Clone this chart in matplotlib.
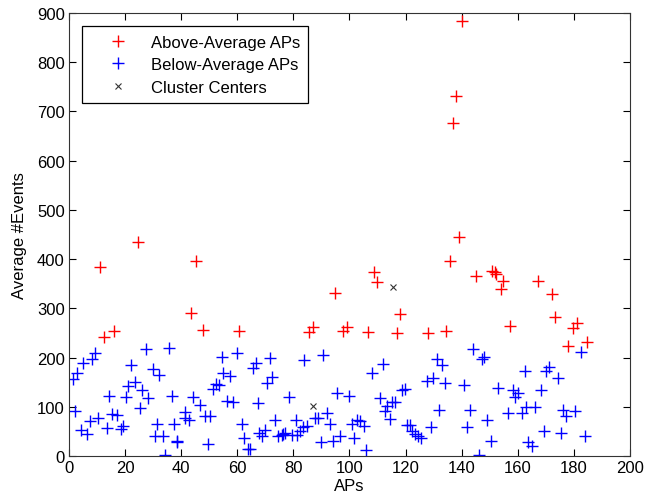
# Average events per AP, split by cluster

import numpy as np
import matplotlib.pyplot as plt

plt.rcParams['font.family'] = ['Liberation Sans', 'DejaVu Sans']

# above-average APs
above_x = [11.1, 12.5, 16.0, 24.5, 43.5, 45.2, 47.7, 60.6, 85.7, 87.1, 94.8, 97.6, 99.0,
           106.7, 108.7, 110.0, 116.8, 118.0, 128.1, 134.6, 136.0, 136.8, 137.9, 139.1,
           140.0, 145.2, 151.0, 151.8, 152.2, 154.0, 154.8, 157.2, 167.3, 172.1, 173.3,
           178.0, 179.6, 181.0, 184.6]
above_y = [385, 241, 253, 435, 290, 397, 257, 253, 251, 263, 331, 253, 263,
           251, 374, 353, 250, 288, 249, 254, 397, 677, 731, 444,
           884, 366, 376, 373, 370, 339, 355, 265, 355, 329, 282,
           223, 261, 270, 231]

# below-average APs
below_x = [1.3, 3.0, 4.9, 8.1, 9.3, 2.1, 4.2, 6.3, 7.5, 10.5, 13.4, 14.4, 15.2, 17.0,
           18.4, 19.4, 20.3, 21.2, 22.1, 23.5, 25.3, 25.9, 27.5, 28.3, 29.8, 31.5, 32.2,
           30.7, 33.4, 34.3, 35.8, 36.6, 37.6, 38.4, 38.6, 41.4, 41.5, 42.9, 44.3, 46.7,
           48.5, 50.3, 49.4, 51.4, 52.6, 53.5, 54.7, 55.0, 56.2, 57.4, 58.6, 59.8, 61.6,
           62.4, 63.9, 64.7, 65.7, 66.7, 67.5, 67.9, 71.7, 70.5, 72.3, 68.7, 69.9, 73.4,
           74.6, 76.4, 75.8, 77.2, 78.5, 79.4, 81.2, 80.9, 82.4, 83.5, 84.7, 83.8, 87.8,
           88.9, 89.7, 90.7, 91.9, 93.0, 94.0, 95.7, 96.6, 99.8, 100.8, 101.7, 102.6,
           103.7, 105.2, 105.9, 107.9, 112.1, 110.9, 112.7, 113.5, 114.4, 115.0, 116.2,
           118.6, 119.8, 120.6, 121.6, 122.2, 123.4, 124.5, 125.4, 127.5, 129.7, 131.1,
           133.1, 134.1, 131.9, 129.1, 140.8, 143.0, 142.0, 144.1, 147.1, 148.0, 146.3,
           148.9, 150.3, 153.1, 156.4, 158.2, 159.0, 160.2, 161.4, 162.6, 162.9, 166.1,
           163.7, 165.2, 168.3, 169.4, 170.1, 171.1, 174.4, 175.4, 176.2, 177.2, 180.4,
           182.4, 184.1]
below_y = [156, 168, 189, 197, 209, 92, 53, 45, 72, 77, 57, 122, 85, 83,
           55, 62, 120, 143, 185, 151, 97, 134, 217, 118, 176, 65, 165,
           41, 41, 3, 220, 122, 65, 28, 30, 89, 77, 73, 120, 104,
           81, 81, 24, 137, 146, 145, 202, 168, 112, 163, 109, 209, 65,
           36, 14, 14, 178, 189, 107, 46, 200, 148, 160, 41, 53, 74,
           40, 45, 43, 46, 120, 43, 43, 74, 50, 58, 60, 195, 77,
           78, 28, 205, 87, 65, 31, 129, 40, 122, 65, 36, 73,
           72, 60, 13, 168, 186, 118, 92, 101, 75, 109, 110,
           134, 136, 63, 63, 51, 45, 40, 36, 153, 158, 197,
           185, 149, 94, 58, 144, 93, 58, 218, 197, 201, 2,
           73, 31, 138, 87, 134, 119, 129, 87, 172, 99, 99,
           29, 21, 134, 50, 172, 180, 158, 47, 93, 82, 92,
           211, 40]

# cluster centers
center_x = [86.9, 115.6]
center_y = [101, 344]

fig = plt.figure(figsize=(6.47, 5.02), dpi=100)
ax = fig.add_axes([0.1066, 0.0896, 0.867, 0.8825])

ax.plot(above_x, above_y, '+', color='red', markersize=8, markeredgewidth=1.0,
        label='Above-Average APs')
ax.plot(below_x, below_y, '+', color='blue', markersize=8, markeredgewidth=1.0,
        label='Below-Average APs')
ax.plot(center_x, center_y, 'x', color='#333333', markersize=4.5, markeredgewidth=0.8,
        label='Cluster Centers')

ax.set_xlim(0, 200)
ax.set_ylim(0, 900)
ax.set_xticks(np.arange(0, 201, 20))
ax.set_yticks(np.arange(0, 901, 100))
ax.tick_params(direction='in', top=True, right=True, length=5, labelsize=12, pad=3)
ax.set_xlabel('APs', fontsize=12, labelpad=2)
ax.set_ylabel('Average #Events', fontsize=12, labelpad=7)
for s in ax.spines.values():
    s.set_color('#333333')

leg = ax.legend(loc='upper left', fontsize=12, fancybox=False, edgecolor='black',
                borderaxespad=0.8, borderpad=0.5, handlelength=3.3,
                handletextpad=0.3, labelspacing=0.45, framealpha=1)
leg.get_frame().set_linewidth(0.9)

fig.savefig('out.png', dpi=100)
